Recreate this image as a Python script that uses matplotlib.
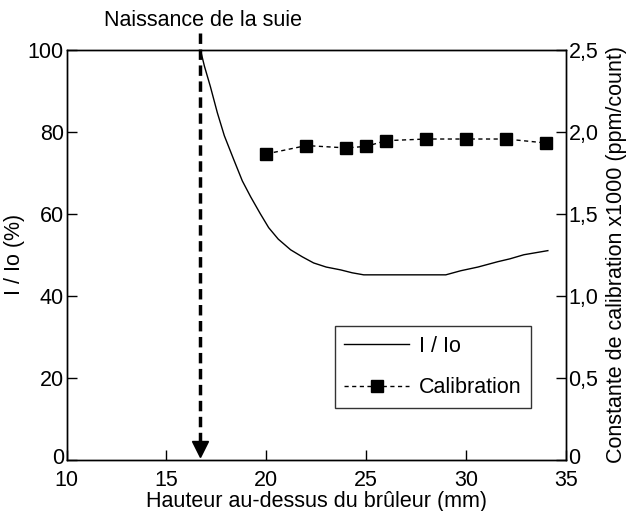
import matplotlib.pyplot as plt
import matplotlib.transforms as mtransforms
from matplotlib.ticker import FuncFormatter

plt.rcParams['font.family'] = ['Liberation Sans', 'DejaVu Sans']

# I/Io curve (%) vs height (mm)
h_ratio = [16.7, 16.9, 17.2, 17.55, 17.9, 18.37, 18.8, 19.22, 19.7, 20.12, 20.6,
           21.22, 21.8, 22.37, 23.0, 23.73, 24.3, 24.88, 26.0, 27.0, 28.0, 28.99,
           29.74, 30.6, 31.59, 32.2, 32.9, 33.5, 34.1]
ratio = [100, 96, 91, 84.6, 79, 73.2, 68, 64.1, 60, 56.6, 53.8,
         51.2, 49.5, 48.0, 47.0, 46.3, 45.6, 45.1, 45.1, 45.1, 45.1, 45.1,
         46.1, 47.0, 48.3, 49.0, 50.0, 50.5, 51.0]

# calibration constant x1000 (ppm/count)
h_calib = [20, 22, 24, 25, 26, 28, 30, 32, 34]
calib = [1.864, 1.915, 1.901, 1.910, 1.945, 1.955, 1.955, 1.955, 1.931]

soot_start = 16.7
fs = 15.5

fig = plt.figure(figsize=(6.28, 5.11), dpi=100)
ax = fig.add_axes([0.106, 0.10, 0.795, 0.803])
ax2 = ax.twinx()

l1, = ax.plot(h_ratio, ratio, color='black', lw=1.0, label='I / Io')
l2, = ax2.plot(h_calib, calib, color='black', lw=1.0, ls=(0, (3, 2.5)),
               marker='s', ms=9, label='Calibration')

ax.set_xlim(10, 35)
ax.set_ylim(0, 100)
ax2.set_ylim(0, 2.5)
ax.set_xticks([10, 15, 20, 25, 30, 35])
ax.set_yticks([0, 20, 40, 60, 80, 100])
ax2.set_yticks([0, 0.5, 1.0, 1.5, 2.0, 2.5])
ax2.yaxis.set_major_formatter(FuncFormatter(
    lambda v, p: '0' if v == 0 else f'{v:.1f}'.replace('.', ',')))

for a in (ax, ax2):
    a.tick_params(direction='in', length=7, width=1, labelsize=fs, pad=2)
    for s in a.spines.values():
        s.set_linewidth(1.0)
ax.tick_params(axis='x', pad=7)

ax.set_xlabel('Hauteur au-dessus du brûleur (mm)', fontsize=fs, labelpad=0)
ax.set_ylabel('I / Io (%)', fontsize=fs, labelpad=2)
ax2.set_ylabel('Constante de calibration x1000 (ppm/count)', fontsize=fs, labelpad=5)

# nudge the two "0" labels up a little so they clear the x tick labels
fig.canvas.draw()
up = mtransforms.ScaledTranslation(0, 3 / 72, fig.dpi_scale_trans)
for lab in [ax.yaxis.get_major_ticks()[0].label1,
            ax2.yaxis.get_major_ticks()[0].label2]:
    lab.set_transform(lab.get_transform() + up)

# dashed arrow marking soot inception
ax.plot([soot_start, soot_start], [104, 4], color='black', lw=2.5,
        ls=(0, (3, 1.6)), clip_on=False, zorder=5)
ax.plot([soot_start], [2.6], marker='v', ms=11, color='black',
        clip_on=False, zorder=5)
ax.text(soot_start - 4.85, 104.6, 'Naissance de la suie', fontsize=fs,
        ha='left', va='bottom')

ax.legend([l1, l2], ['I / Io', 'Calibration'], loc='lower left',
          bbox_to_anchor=(0.537, 0.127), fontsize=fs, frameon=True,
          fancybox=False, edgecolor='black', handlelength=3.0,
          labelspacing=0.95, borderpad=0.45, handletextpad=0.45, borderaxespad=0)
ax.get_legend().get_frame().set_linewidth(1.0)

fig.savefig('out.png', dpi=100)
